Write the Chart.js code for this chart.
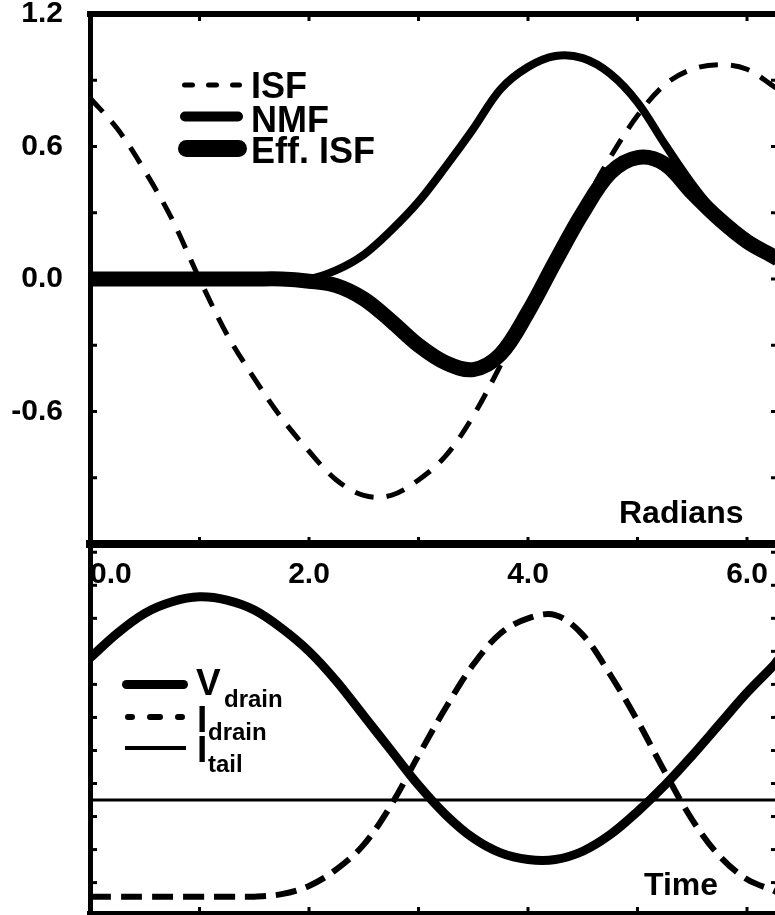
<!DOCTYPE html>
<html>
<head>
<meta charset="utf-8">
<title>ISF / NMF</title>
<script src="https://cdn.jsdelivr.net/npm/chart.js@4.4.1/dist/chart.umd.min.js"></script>
<style>
  html, body { margin: 0; padding: 0; background: #fff; overflow: hidden; }
  #wrap { position: relative; width: 775px; height: 915px; overflow: hidden; }
  #wrap canvas { position: absolute; left: 0; }
  #topChart { top: 0; }
  #bottomChart { top: 540px; }
</style>
</head>
<body>
<div id="wrap">
  <canvas id="topChart" width="790" height="600"></canvas>
  <canvas id="bottomChart" width="790" height="380"></canvas>
</div>
<script>
/* globals Chart:false */

// top panel: phase in radians
const phase = [0, 0.25, 0.5, 0.75, 1, 1.25, 1.5, 1.75, 2, 2.25, 2.5, 2.75, 3, 3.25, 3.5, 3.75, 4, 4.25, 4.5, 4.75, 5, 5.25, 5.5, 5.75, 6, 6.25, 6.283]
const isf = [0.82, 0.68, 0.49, 0.27, 0.0, -0.25, -0.45, -0.63, -0.78, -0.91, -0.98, -0.98, -0.91, -0.80, -0.62, -0.39, -0.15, 0.09, 0.33, 0.55, 0.74, 0.88, 0.95, 0.97, 0.95, 0.87, 0.86]
const nmf = [0, 0, 0, 0, 0, 0, 0, 0, 0.0, 0.04, 0.11, 0.22, 0.35, 0.51, 0.68, 0.86, 0.96, 1.01, 1.0, 0.93, 0.80, 0.61, 0.43, 0.28, 0.17, 0.10, 0.09]
const effIsf = [0, 0, 0, 0, 0, 0, 0, 0, -0.01, -0.03, -0.09, -0.19, -0.30, -0.38, -0.41, -0.34, -0.15, 0.08, 0.30, 0.48, 0.55, 0.52, 0.39, 0.27, 0.17, 0.10, 0.09]
const xTickLabels = ['0.0', '2.0', '4.0', '6.0']
const yTickLabels = ['1.2', '0.6', '0.0', '-0.6']

// bottom panel: time (same span, arbitrary units)
const time = [0, 0.25, 0.5, 0.75, 1, 1.25, 1.5, 1.75, 2, 2.25, 2.5, 2.75, 3, 3.25, 3.5, 3.75, 4, 4.25, 4.5, 4.75, 5, 5.25, 5.5, 5.75, 6, 6.25, 6.283]
const vDrain = [0.56, 0.71, 0.83, 0.90, 0.93, 0.91, 0.85, 0.74, 0.60, 0.42, 0.21, 0.0, -0.21, -0.39, -0.53, -0.62, -0.66, -0.66, -0.61, -0.51, -0.37, -0.21, -0.03, 0.16, 0.35, 0.52, 0.55]
const iDrain = [-0.885, -0.885, -0.885, -0.885, -0.885, -0.885, -0.885, -0.87, -0.82, -0.72, -0.57, -0.33, -0.03, 0.26, 0.52, 0.71, 0.80, 0.82, 0.70, 0.46, 0.18, -0.13, -0.42, -0.64, -0.78, -0.85, -0.86]
const tailTime = [0, 6.283]
const iTail = [-0.3, -0.3]

const FONT = '"Liberation Sans", Arial, Helvetica, sans-serif'

const pts = (xs, ys) => xs.map((x, i) => ({ x: x, y: ys[i] }))

// tick marks drawn inward from each frame edge
const innerTicks = {
  id: 'innerTicks',
  afterDatasetsDraw(chart, args, opts) {
    const { ctx, chartArea: a } = chart
    const len = opts.length || 7
    ctx.save()
    ctx.strokeStyle = '#000'
    ctx.lineWidth = opts.width || 3
    ;(opts.axes || []).forEach(id => {
      const s = chart.scales[id]
      if (!s) return
      s.ticks.forEach(t => {
        if (t.value <= s.min + 1e-6 || t.value >= s.max - 1e-6) return
        const p = s.getPixelForValue(t.value)
        ctx.beginPath()
        if (s.position === 'bottom') { ctx.moveTo(p, a.bottom); ctx.lineTo(p, a.bottom - len) }
        else if (s.position === 'top') { ctx.moveTo(p, a.top); ctx.lineTo(p, a.top + len) }
        else if (s.position === 'left') { ctx.moveTo(a.left, p); ctx.lineTo(a.left + len, p) }
        else { ctx.moveTo(a.right, p); ctx.lineTo(a.right - len, p) }
        ctx.stroke()
      })
    })
    ctx.restore()
  }
}

// legend samples and free text inside the plot
const decor = {
  id: 'decor',
  afterDraw(chart, args, opts) {
    const ctx = chart.ctx
    ctx.save()
    ;(opts.keys || []).forEach(k => {
      const ds = chart.data.datasets[k.ds]
      ctx.strokeStyle = ds.borderColor
      ctx.lineWidth = k.width
      ctx.lineCap = k.cap || 'butt'
      ctx.setLineDash(k.dash || [])
      ctx.beginPath()
      ctx.moveTo(k.x1, k.y)
      ctx.lineTo(k.x2, k.y)
      ctx.stroke()
    })
    ctx.setLineDash([])
    ctx.fillStyle = '#000'
    ctx.textBaseline = 'alphabetic'
    ctx.textAlign = 'left'
    ;(opts.texts || []).forEach(t => {
      ctx.font = 'bold ' + t.size + 'px ' + FONT
      ctx.fillText(t.text, t.x, t.y)
    })
    ctx.restore()
  }
}

const fixSize = (w, h) => s => {
  if (w !== undefined) s.width = w
  if (h !== undefined) s.height = h
  s.paddingTop = 0
  s.paddingBottom = 0
  s.paddingLeft = 0
  s.paddingRight = 0
}

const frame = (axis, position, min, max, step, size, border, extra) => Object.assign({
  type: 'linear',
  axis: axis,
  position: position,
  min: min,
  max: max,
  grid: { display: false, drawTicks: false },
  border: { display: border > 0, width: border, color: '#000' },
  ticks: { display: false, stepSize: step, autoSkip: false, includeBounds: false },
  afterFit: axis === 'x' ? fixSize(undefined, size) : fixSize(size, undefined)
}, extra || {})

const tickFont = { family: FONT, size: 30, weight: 'bold', lineHeight: 0.9 }

;(() => {
  'use strict'

  Chart.defaults.font.family = FONT
  Chart.defaults.color = '#000'

  const ctxTop = document.getElementById('topChart')
  // eslint-disable-next-line no-unused-vars
  const topChart = new Chart(ctxTop, {
    type: 'line',
    data: {
      datasets: [{
        label: 'ISF',
        data: pts(phase, isf),
        borderColor: '#000',
        borderWidth: 5,
        borderDash: [19, 13],
        order: 3
      }, {
        label: 'NMF',
        data: pts(phase, nmf),
        borderColor: '#000',
        borderWidth: 8,
        borderJoinStyle: 'round',
        order: 2
      }, {
        label: 'Eff. ISF',
        data: pts(phase, effIsf),
        borderColor: '#000',
        borderWidth: 15,
        borderJoinStyle: 'round',
        order: 1
      }]
    },
    options: {
      responsive: false,
      animation: false,
      layout: { padding: 0 },
      elements: {
        point: { radius: 0 },
        line: { tension: 0.35, fill: false }
      },
      scales: {
        x: frame('x', 'bottom', 0, 6.283, 1, 56, 8, {
          ticks: {
            display: true,
            stepSize: 1,
            includeBounds: false,
            autoSkip: false,
            maxRotation: 0,
            align: 'inner',
            padding: 17,
            color: '#000',
            font: tickFont,
            callback: v => (xTickLabels.includes(v.toFixed(1)) ? v.toFixed(1) : '')
          },
          // blank end tick so only the first label is pulled inside the frame
          afterBuildTicks: s => { s.ticks.push({ value: s.max }) }
        }),
        xTop: frame('x', 'top', 0, 6.283, 1, 14, 6),
        y: frame('y', 'left', -1.2, 1.2, 0.3, 90, 5, {
          ticks: {
            display: true,
            stepSize: 0.3,
            autoSkip: false,
            padding: 27,
            color: '#000',
            font: tickFont,
            callback: v => {
              const s = Math.abs(v) < 1e-6 ? '0.0' : v.toFixed(1)
              return yTickLabels.includes(s) ? s : ''
            }
          }
        }),
        yRight: frame('y', 'right', -1.2, 1.2, 0.3, 12, 5)
      },
      plugins: {
        legend: { display: false },
        tooltip: { enabled: false },
        innerTicks: { axes: ['x', 'xTop', 'y', 'yRight'], length: 7, width: 3 },
        decor: {
          keys: [
            { ds: 0, x1: 184.5, x2: 239.5, y: 85, width: 5, cap: 'round', dash: [8, 16] },
            { ds: 1, x1: 185, x2: 238, y: 116.5, width: 10, cap: 'round' },
            { ds: 2, x1: 186.5, x2: 238.5, y: 148.5, width: 17, cap: 'round' }
          ],
          texts: [
            { text: 'ISF', x: 251, y: 98, size: 36 },
            { text: 'NMF', x: 251, y: 132, size: 36 },
            { text: 'Eff. ISF', x: 251, y: 163, size: 36 },
            { text: 'Radians', x: 619, y: 523, size: 32 }
          ]
        }
      }
    },
    plugins: [innerTicks, decor]
  })

  const ctxBottom = document.getElementById('bottomChart')
  // eslint-disable-next-line no-unused-vars
  const bottomChart = new Chart(ctxBottom, {
    type: 'line',
    data: {
      datasets: [{
        label: 'Vdrain',
        data: pts(time, vDrain),
        borderColor: '#000',
        borderWidth: 9,
        borderJoinStyle: 'round',
        order: 1
      }, {
        label: 'Idrain',
        data: pts(time, iDrain),
        borderColor: '#000',
        borderWidth: 6,
        borderDash: [21, 10],
        order: 2
      }, {
        label: 'Itail',
        data: pts(tailTime, iTail),
        borderColor: '#000',
        borderWidth: 3,
        order: 3
      }]
    },
    options: {
      responsive: false,
      animation: false,
      layout: { padding: { top: 4 } },
      elements: {
        point: { radius: 0 },
        line: { tension: 0.35, fill: false }
      },
      scales: {
        x: frame('x', 'bottom', 0, 6.283, 1, 6, 6),
        y: frame('y', 'left', -0.99, 1.25, 0.2, 90, 5),
        yRight: frame('y', 'right', -0.99, 1.25, 0.2, 12, 5)
      },
      plugins: {
        legend: { display: false },
        tooltip: { enabled: false },
        innerTicks: { axes: ['x', 'y', 'yRight'], length: 7, width: 3 },
        decor: {
          keys: [
            { ds: 0, x1: 126.5, x2: 183.5, y: 144.5, width: 9, cap: 'round' },
            { ds: 1, x1: 128, x2: 184, y: 177, width: 6, cap: 'round', dash: [4, 18, 10, 18] },
            { ds: 2, x1: 125, x2: 186, y: 208, width: 4 }
          ],
          texts: [
            { text: 'V', x: 196, y: 155, size: 37 },
            { text: 'drain', x: 224, y: 167, size: 24 },
            { text: 'I', x: 197, y: 192, size: 37 },
            { text: 'drain', x: 208, y: 200, size: 24 },
            { text: 'I', x: 197, y: 222, size: 37 },
            { text: 'tail', x: 208, y: 232, size: 24 },
            { text: 'Time', x: 644, y: 355, size: 32 }
          ]
        }
      }
    },
    plugins: [innerTicks, decor]
  })
})()
</script>
</body>
</html>
